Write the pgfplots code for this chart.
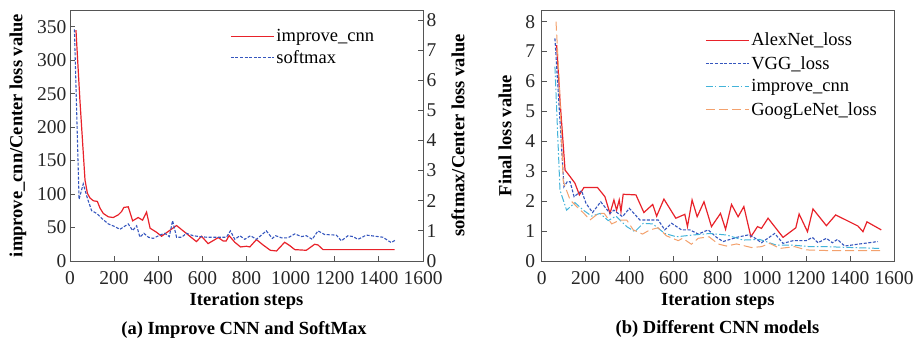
\documentclass[border=0pt]{standalone}
\usepackage{pgfplots}
\pgfplotsset{compat=1.18}
\usepackage{fontspec}
\setmainfont{Liberation Serif}
\definecolor{cred}{HTML}{E8222A}
\definecolor{cblue}{HTML}{3556BE}
\definecolor{ccyan}{HTML}{43B3D9}
\definecolor{corange}{HTML}{F3A16D}
\definecolor{caxis}{HTML}{555555}
\newcommand{\ff}{\fontsize{18.5bp}{21bp}\selectfont}
\newcommand{\ft}{\fontsize{19.5bp}{22bp}\selectfont}
\pgfplotsset{
  legend image code/.code={\draw[#1] (0bp,0bp) -- (43bp,0bp);},
  mybase/.style={
    font=\ff,
    scale only axis, width=353bp, height=251bp,
    xmin=0, xmax=1600, xtick={0,200,...,1600},
    /pgf/number format/assume math mode=true,
    /pgf/number format/1000 sep={},
    axis line style={caxis, line width=0.9bp},
    tick style={caxis, line width=0.8bp},
    major tick length=5bp,
    tick align=inside,
    tick label style={font=\ft, black!85},
    x tick label style={yshift=-7bp},
    label style={font=\ff\bfseries},
    legend style={draw=none, fill=none, font=\ff, row sep=3.5bp},
    legend cell align=left,
  },
}
\begin{document}
\begin{tikzpicture}[x=1bp,y=1bp]
\path[use as bounding box] (-70,-79) rectangle (847,261);
% ---------------- (a) ----------------
\begin{axis}[mybase, at={(0bp,0bp)}, anchor=south west,
  ymin=0, ymax=375, ytick={0,50,...,350},
  xtick pos=bottom, ytick pos=left,
  xlabel={Iteration steps},
  ylabel={improve\_cnn/Center loss value},
  xlabel style={at={([yshift=-44bp]axis description cs:0.5,0)}, anchor=base},
  ylabel style={at={([xshift=-52bp]axis description cs:0,0.5)}, anchor=center},
]
\addplot[cred, line width=1.2bp] coordinates {
(27,345) (45,240) (68,121) (79,101) (91,94) (106,90) (124,89) (136,79) (151,71)
(174,66) (196,65) (219,69) (234,74) (244,80) (264,81) (284,60) (309,65) (329,61)
(347,73) (363,49) (392,43) (415,37) (483,53) (528,41) (573,29) (596,37) (626,26)
(672,35) (694,30) (708,30) (721,38) (747,28) (773,21) (800,22) (815,21) (845,32)
(875,24) (908,16) (936,15) (973,28) (996,23) (1019,17) (1071,16) (1109,25) (1124,24)
(1147,17) (1471,17)
};
\end{axis}
\begin{axis}[mybase, at={(0bp,0bp)}, anchor=south west,
  ymin=0, ymax=8.333, ytick={0,1,...,8},
  axis x line=none, axis y line*=right, tick align=inside,
  ylabel={softmax/Center loss value},
  ylabel style={at={([xshift=35bp]axis description cs:1,0.5)}, anchor=center},
  legend style={at={(axis description cs:0.445,0.94)}, anchor=north west},
]
\addlegendimage{color=cred, solid, line width=1.2bp}
\addlegendentry{improve\_cnn}
\addplot[color=cblue, line width=1.1bp, dash pattern=on 3bp off 1.6bp] coordinates {
(20,7.69) (41,2.05) (60,2.56) (79,2.08) (98,1.67) (121,1.58) (143,1.42) (174,1.23)
(204,1.14) (226,1.05) (264,1.23) (284,1.01) (302,1.17) (317,0.79) (335,0.92) (355,0.79)
(377,0.75) (407,0.86) (430,0.92) (450,0.81) (465,1.34) (483,0.79) (506,0.79) (528,0.92)
(558,0.84) (588,0.81) (620,0.79) (709,0.79) (727,1.0) (747,0.72) (770,0.84) (792,0.72)
(818,0.84) (845,0.72) (890,1.0) (917,0.75) (932,0.84) (958,0.77) (988,0.77) (1019,0.90)
(1049,0.81) (1071,0.84) (1098,0.72) (1124,1.0) (1154,0.88) (1207,0.86) (1230,0.67)
(1260,0.84) (1283,0.81) (1305,0.72) (1343,0.86) (1418,0.79) (1456,0.61) (1476,0.70)
};
\addlegendentry{softmax}
\end{axis}
\node[font=\ff\bfseries, anchor=base] at (174,-73) {(a) Improve CNN and SoftMax};
% ---------------- (b) ----------------
\begin{axis}[mybase, at={(471.7bp,0bp)}, anchor=south west,
  width=352.3bp,
  ymin=0, ymax=8.39, ytick={0,1,...,8},
  xtick pos=bottom, ytick pos=left,
  xlabel={Iteration steps},
  ylabel={Final loss value},
  xlabel style={at={([yshift=-44bp]axis description cs:0.5,0)}, anchor=base},
  ylabel style={at={([xshift=-36.7bp]axis description cs:0,0.5)}, anchor=center},
  yticklabel style={xshift=-3bp},
  legend style={at={(axis description cs:0.455,0.925)}, anchor=north west, row sep=5bp},
]
\addplot[color=cred, line width=1.2bp] coordinates {
(68,7.22) (83,5.38) (106,3.04) (129,2.82) (151,2.60) (171,2.21) (192,2.46) (253,2.46)
(287,2.15) (310,1.59) (328,2.04) (340,1.70) (352,2.04) (360,1.65) (370,2.23) (428,2.21)
(464,1.62) (504,1.89) (522,1.50) (555,2.07) (609,1.43) (650,1.56) (662,1.15) (683,2.04)
(706,1.48) (737,1.98) (771,1.15) (812,1.59) (835,1.06) (862,1.89) (892,1.48) (918,1.82)
(950,0.81) (980,1.15) (998,1.09) (1028,1.43) (1096,0.79) (1154,1.11) (1169,1.57)
(1207,0.98) (1232,1.74) (1293,1.18) (1335,1.54) (1436,1.17) (1459,0.98) (1477,1.31)
(1542,1.04)
};
\addlegendentry{AlexNet\_loss}
\addplot[color=cblue, line width=1.1bp, dash pattern=on 3bp off 1.6bp] coordinates {
(60,7.44) (80,5.05) (101,2.48) (116,2.65) (129,2.65) (147,2.15) (166,2.26) (181,2.35)
(201,1.93) (231,1.62) (268,1.98) (310,1.59) (328,1.70) (367,1.48) (398,1.76) (446,1.37)
(529,1.37) (559,1.04) (590,1.26) (635,1.04) (673,1.04) (711,0.90) (756,1.04) (794,0.79)
(824,0.65) (885,0.79) (937,0.87) (960,0.81) (998,0.61) (1058,0.92) (1096,0.59)
(1142,0.68) (1202,0.68) (1229,0.79) (1255,0.61) (1293,0.76) (1320,0.61) (1343,0.72)
(1376,0.50) (1444,0.57) (1527,0.65)
};
\addlegendentry{VGG\_loss}
\addplot[color=ccyan, line width=1bp, dash pattern=on 7bp off 2.2bp on 1.5bp off 2.2bp] coordinates {
(60,6.5) (83,2.37) (113,1.70) (151,1.95) (189,1.70) (227,1.50) (265,1.59) (302,1.35)
(337,1.50) (386,1.15) (423,0.98) (461,1.26) (504,1.24) (559,0.92) (612,0.81) (688,0.87)
(764,0.92) (839,0.87) (915,0.70) (990,0.72) (1066,0.53) (1142,0.53) (1217,0.48)
(1293,0.48) (1368,0.46) (1535,0.42)
};
\addlegendentry{improve\_cnn}
\addplot[color=corange, line width=1bp, dash pattern=on 9bp off 4bp] coordinates {
(65,8.0) (80,5.94) (98,2.65) (129,2.04) (159,1.82) (192,1.59) (219,1.37) (257,1.59)
(284,1.59) (318,1.24) (355,1.37) (386,1.37) (416,1.04) (458,0.90) (491,1.04) (529,1.11)
(567,0.84) (620,0.68) (640,0.76) (680,0.56) (711,0.76) (760,0.81) (801,0.57) (839,0.50)
(885,0.57) (953,0.45) (998,0.48) (1036,0.59) (1081,0.42) (1149,0.48) (1202,0.37)
(1293,0.35) (1542,0.35)
};
\addlegendentry{GoogLeNet\_loss}
\end{axis}
\node[font=\ff\bfseries, anchor=base] at (647.5,-72) {(b) Different CNN models};
\end{tikzpicture}
\end{document}
